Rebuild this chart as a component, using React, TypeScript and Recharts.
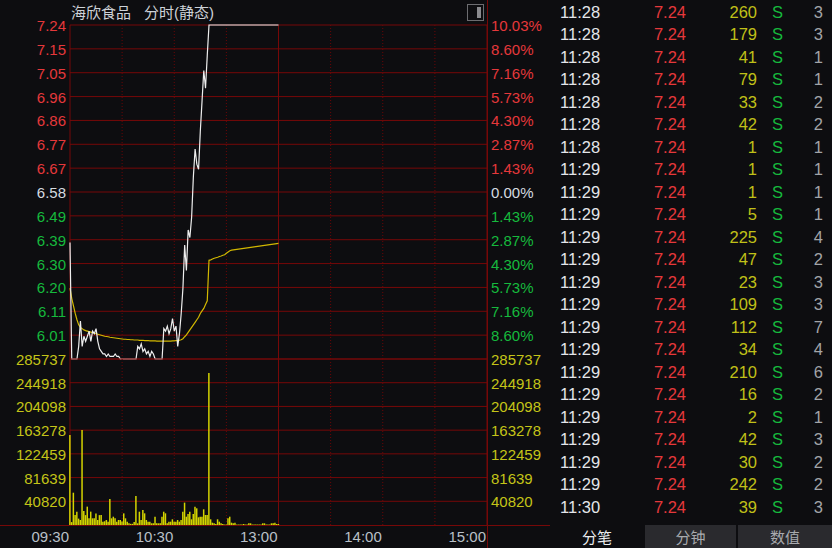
import React from "react";
import { ComposedChart, Line, Bar, XAxis, YAxis, ReferenceLine } from "recharts";

const FONT = "'Liberation Sans', Arial, 'Noto Sans CJK SC', sans-serif";
const BG = "#0d0d10";
const GRID = "#760808";
const GRID_DOT = "#6a0606";
const RED = "#e5383b";
const GREEN = "#16b93d";
const WHITE_TXT = "#d6dbe0";
const YELLOW_TXT = "#c4c418";
const TIME_TXT = "#b9c0c8";

// ---- price pane data (per minute from 09:30) ----
const price = [
  6.38, 5.92, 5.92, 5.92, 5.92, 5.97, 6.07, 5.97, 6.01, 5.99,
  6.01, 6.03, 5.99, 6.03, 6.02, 6.04, 5.99, 5.96, 5.95, 5.94,
  5.94, 5.93, 5.94, 5.93, 5.93, 5.93, 5.94, 5.93, 5.93, 5.92,
  5.92, 5.92, 5.92, 5.92, 5.92, 5.92, 5.92, 5.92, 5.92, 5.97,
  5.96, 5.98, 5.95, 5.96, 5.94, 5.95, 5.93, 5.95, 5.94, 5.92,
  5.92, 5.92, 5.92, 5.92, 6.04, 6.03, 6.05, 6.02, 6.04, 6.08,
  6.03, 6.05, 5.97, 6.02, 6.10, 6.20, 6.37, 6.27, 6.43, 6.40,
  6.48, 6.64, 6.75, 6.69, 6.67, 6.82, 6.94, 7.06, 6.99, 7.12,
  7.24, 7.24, 7.24, 7.24, 7.24, 7.24, 7.24, 7.24, 7.24, 7.24,
  7.24, 7.24, 7.24, 7.24, 7.24, 7.24, 7.24, 7.24, 7.24, 7.24,
  7.24, 7.24, 7.24, 7.24, 7.24, 7.24, 7.24, 7.24, 7.24, 7.24,
  7.24, 7.24, 7.24, 7.24, 7.24, 7.24, 7.24, 7.24, 7.24, 7.24,
  7.24,
];

const avgPrice = [
  6.20, 6.16, 6.13, 6.10, 6.075, 6.055, 6.045, 6.04, 6.035, 6.032,
  6.03, 6.028, 6.026, 6.024, 6.022, 6.02, 6.018, 6.016, 6.014, 6.012,
  6.01, 6.009, 6.008, 6.006, 6.005, 6.004, 6.003, 6.002, 6.001, 6.0,
  5.999, 5.998, 5.998, 5.997, 5.997, 5.996, 5.996, 5.995, 5.995, 5.995,
  5.994, 5.994, 5.994, 5.993, 5.993, 5.993, 5.992, 5.992, 5.992, 5.992,
  5.991, 5.991, 5.991, 5.991, 5.991, 5.991, 5.991, 5.991, 5.991, 5.992,
  5.992, 5.993, 5.993, 5.994, 5.996, 6.0, 6.008, 6.015, 6.025, 6.035,
  6.045, 6.055, 6.065, 6.075, 6.085, 6.10, 6.11, 6.12, 6.135, 6.15,
  6.31, 6.312, 6.315, 6.318, 6.32, 6.322, 6.325, 6.327, 6.33, 6.332,
  6.338, 6.343, 6.348, 6.35, 6.351, 6.352, 6.353, 6.354, 6.355, 6.356,
  6.357, 6.358, 6.359, 6.36, 6.361, 6.362, 6.363, 6.364, 6.365, 6.366,
  6.367, 6.368, 6.369, 6.37, 6.371, 6.372, 6.373, 6.374, 6.375, 6.376,
  6.377,
];

const volume = [
  155000, 5000, 55600, 17000, 23000, 11000, 8600, 163500, 24000, 17000,
  31600, 11500, 23000, 11500, 11500, 20000, 8600, 17000, 17000, 5700,
  6500, 8600, 5700, 44800, 11500, 14300, 11500, 5700, 8600, 8600,
  6000, 20000, 11500, 5700, 2900, 2000, 2000, 5000, 49900, 2900,
  22900, 8600, 25800, 20100, 8600, 5700, 5700, 2900, 3000, 14300,
  2900, 2900, 3000, 14300, 22900, 20100, 2900, 5700, 5700, 9800,
  5700, 5700, 8600, 5700, 8600, 22900, 38500, 14300, 19000, 22900,
  9800, 19000, 31600, 28700, 13200, 14300, 14300, 27000, 17200, 17200,
  261600, 9800, 4000, 2900, 1700, 9800, 5700, 2900, 1700, 800,
  800, 11500, 14300, 4000, 2900, 4000, 800, 800, 800, 800,
  1700, 800, 800, 2900, 2900, 800, 800, 800, 800, 800,
  800, 2900, 2900, 800, 800, 800, 2900, 2900, 4000, 1700,
  1700,
];

// ---- axis labels ----
const prevClose = 6.58;
const limitUp = 7.24;
const priceTickLabels = ["7.24", "7.15", "7.05", "6.96", "6.86", "6.77", "6.67", "6.58", "6.49", "6.39", "6.30", "6.20", "6.11", "6.01"];
const pctTickLabels = ["10.03%", "8.60%", "7.16%", "5.73%", "4.30%", "2.87%", "1.43%", "0.00%", "1.43%", "2.87%", "4.30%", "5.73%", "7.16%", "8.60%"];
const volTickLabels = ["285737", "244918", "204098", "163278", "122459", "81639", "40820"];
const volMax = 285737;
const timeTickLabels = ["09:30", "10:30", "13:00", "14:00", "15:00"];
const timeTickValues = [0, 60, 120, 180, 240];
const solidVLines = [0, 120, 240];
const dottedVLines = [30, 60, 90, 150, 180, 210];

// ---- trade list ----
const tradeTimes = ["11:28", "11:28", "11:28", "11:28", "11:28", "11:28", "11:28", "11:29", "11:29", "11:29", "11:29", "11:29", "11:29", "11:29", "11:29", "11:29", "11:29", "11:29", "11:29", "11:29", "11:29", "11:29", "11:30"];
const tradePrices = Array(23).fill("7.24");
const tradeVols = [260, 179, 41, 79, 33, 42, 1, 1, 1, 5, 225, 47, 23, 109, 112, 34, 210, 16, 2, 42, 30, 242, 39];
const tradeSides = Array(23).fill("S");
const tradeCounts = [3, 3, 1, 1, 2, 2, 1, 1, 1, 1, 4, 2, 3, 3, 7, 4, 6, 2, 1, 3, 2, 2, 3];
const tabs = ["分笔", "分钟", "数值"];

const step = (limitUp - prevClose) / 7;
const priceTicks = priceTickLabels.map((_, i) => limitUp - i * step);
const priceMin = limitUp - 14 * step;
const volTicks = volTickLabels.map((_, i) => volMax - (i * volMax) / 7);

const data = price.map((p, i) => ({ t: i, price: p, avg: avgPrice[i], vol: volume[i] }));

const findIdx = (arr: number[], v: number) => arr.findIndex((a) => Math.abs(a - v) < 1e-6);

const LeftPriceTick = (props: any) => {
  const i = findIdx(priceTicks, props.payload.value);
  if (i < 0) return null;
  const color = i < 7 ? RED : i === 7 ? WHITE_TXT : GREEN;
  return (
    <text x={props.x} y={props.y} dy={6} textAnchor="end" fill={color} fontSize={15} fontFamily={FONT}>
      {priceTickLabels[i]}
    </text>
  );
};
const RightPctTick = (props: any) => {
  const i = findIdx(priceTicks, props.payload.value);
  if (i < 0) return null;
  const color = i < 7 ? RED : i === 7 ? WHITE_TXT : GREEN;
  return (
    <text x={props.x} y={props.y} dy={6} textAnchor="start" fill={color} fontSize={15} fontFamily={FONT}>
      {pctTickLabels[i]}
    </text>
  );
};
const VolTick = (anchor: "start" | "end") => (props: any) => {
  const i = findIdx(volTicks, props.payload.value);
  if (i < 0) return null;
  return (
    <text x={props.x} y={props.y} dy={6} textAnchor={anchor} fill={YELLOW_TXT} fontSize={15} fontFamily={FONT}>
      {volTickLabels[i]}
    </text>
  );
};
const TimeTick = (props: any) => {
  const i = timeTickValues.indexOf(props.payload.value);
  if (i < 0) return null;
  return (
    <text x={props.x} y={props.y} dx={-1} dy={17} textAnchor="end" fill={TIME_TXT} fontSize={15} fontFamily={FONT}>
      {timeTickLabels[i]}
    </text>
  );
};

const gridLines = (yId: string, values: number[]) => [
  ...values.map((v, i) => <ReferenceLine key={"h" + i} yAxisId={yId} y={v} stroke={GRID} strokeWidth={1} zIndex={-100} />),
  ...solidVLines.map((v) => <ReferenceLine key={"vs" + v} yAxisId={yId} x={v} stroke={GRID} strokeWidth={1} zIndex={-100} />),
  ...dottedVLines.map((v) => (
    <ReferenceLine key={"vd" + v} yAxisId={yId} x={v} stroke={GRID_DOT} strokeWidth={1} strokeDasharray="1 2" zIndex={-100} />
  )),
];

export default function App() {
  return (
    <div style={{ position: "absolute", left: 0, top: 0, width: 832, height: 548, background: BG, overflow: "hidden", fontFamily: FONT }}>
      {/* title */}
      <div style={{ position: "absolute", left: 71, top: 3, fontSize: 15, color: "#cdd2d8", whiteSpace: "pre", lineHeight: "20px" }}>
        {"海欣食品"}
      </div>
      <div style={{ position: "absolute", left: 144, top: 3, fontSize: 15, color: "#cdd2d8", whiteSpace: "pre", lineHeight: "20px" }}>
        {"分时(静态)"}
      </div>
      {/* icon */}
      <div style={{ position: "absolute", left: 467, top: 4, width: 15, height: 15, border: "1.5px solid #6c6c70" }}>
        <div style={{ position: "absolute", right: 2, top: 2, width: 4, height: 11, background: "#8a8a8e" }} />
      </div>

      {/* price pane */}
      <div style={{ position: "absolute", left: 0, top: 0 }}>
        <ComposedChart width={550} height={360} data={data} margin={{ top: 25, right: 0, left: 0, bottom: 1 }}>
          <XAxis dataKey="t" type="number" domain={[0, 240]} hide />
          <YAxis
            yAxisId="l"
            orientation="left"
            width={70}
            domain={[priceMin, limitUp]}
            ticks={priceTicks}
            interval={0}
            tick={LeftPriceTick}
            tickSize={0}
            tickMargin={4}
            axisLine={false}
            tickLine={false}
          />
          <YAxis
            yAxisId="r"
            orientation="right"
            width={63}
            domain={[priceMin, limitUp]}
            ticks={priceTicks}
            interval={0}
            tick={RightPctTick}
            tickSize={0}
            tickMargin={4}
            axisLine={false}
            tickLine={false}
            allowDataOverflow
          />
          {gridLines("l", [...priceTicks, priceMin])}
          <Line yAxisId="l" dataKey="avg" stroke="#d2b800" strokeWidth={1.2} dot={false} isAnimationActive={false} type="linear" />
          <Line yAxisId="l" dataKey="price" stroke="#eeeeee" strokeWidth={1.2} dot={false} isAnimationActive={false} type="linear" />
        </ComposedChart>
      </div>

      {/* volume pane */}
      <div style={{ position: "absolute", left: 0, top: 340 }}>
        <ComposedChart width={550} height={208} data={data} margin={{ top: 19, right: 0, left: 0, bottom: 0 }}>
          <XAxis
            dataKey="t"
            type="number"
            domain={[0, 240]}
            ticks={timeTickValues}
            interval={0}
            tick={TimeTick}
            height={23}
            tickSize={0}
            tickMargin={0}
            axisLine={false}
            tickLine={false}
          />
          <YAxis
            yAxisId="l"
            orientation="left"
            width={70}
            domain={[0, volMax]}
            ticks={volTicks}
            interval={0}
            tick={VolTick("end")}
            tickSize={0}
            tickMargin={4}
            axisLine={false}
            tickLine={false}
          />
          <YAxis
            yAxisId="r"
            orientation="right"
            width={63}
            domain={[0, volMax]}
            ticks={volTicks}
            interval={0}
            tick={VolTick("start")}
            tickSize={0}
            tickMargin={4}
            axisLine={false}
            tickLine={false}
            allowDataOverflow
          />
          {gridLines("l", volTicks)}
          <Bar yAxisId="l" dataKey="vol" fill="#d4d400" barSize={1.5} isAnimationActive={false} />
        </ComposedChart>
      </div>

      {/* full-width bottom line and right border */}
      <div style={{ position: "absolute", left: 0, top: 525, width: 550, height: 1, background: GRID }} />
      <div style={{ position: "absolute", left: 487, top: 0, width: 1, height: 548, background: GRID }} />

      {/* trade list */}
      <div style={{ position: "absolute", left: 550, top: 0.5, width: 282 }}>
        {tradeTimes.map((tm, i) => (
          <div key={i} style={{ position: "relative", height: 22.5, lineHeight: "22.5px", fontSize: 16.5 }}>
            <span style={{ position: "absolute", left: 10, color: "#e4e6ea" }}>{tm}</span>
            <span style={{ position: "absolute", right: 282 - 136, color: RED }}>{tradePrices[i]}</span>
            <span style={{ position: "absolute", right: 282 - 207, color: "#c0c018" }}>{tradeVols[i]}</span>
            <span style={{ position: "absolute", left: 222, color: GREEN }}>{tradeSides[i]}</span>
            <span style={{ position: "absolute", right: 282 - 273, color: "#a2a4a8" }}>{tradeCounts[i]}</span>
          </div>
        ))}
      </div>

      {/* tabs */}
      {tabs.map((t, i) => {
        const lefts = [550, 645, 738];
        const widths = [94, 91, 94];
        return (
          <div
            key={t}
            style={{
              position: "absolute",
              left: lefts[i],
              top: 525,
              width: widths[i],
              height: 23,
              background: i === 0 ? BG : "#2a2a2e",
              color: i === 0 ? "#eceef0" : "#a8aaae",
              fontSize: 15,
              lineHeight: "23px",
              textAlign: "center",
              fontFamily: "'Noto Sans CJK SC', sans-serif",
            }}
          >
            {t}
          </div>
        );
      })}
    </div>
  );
}
